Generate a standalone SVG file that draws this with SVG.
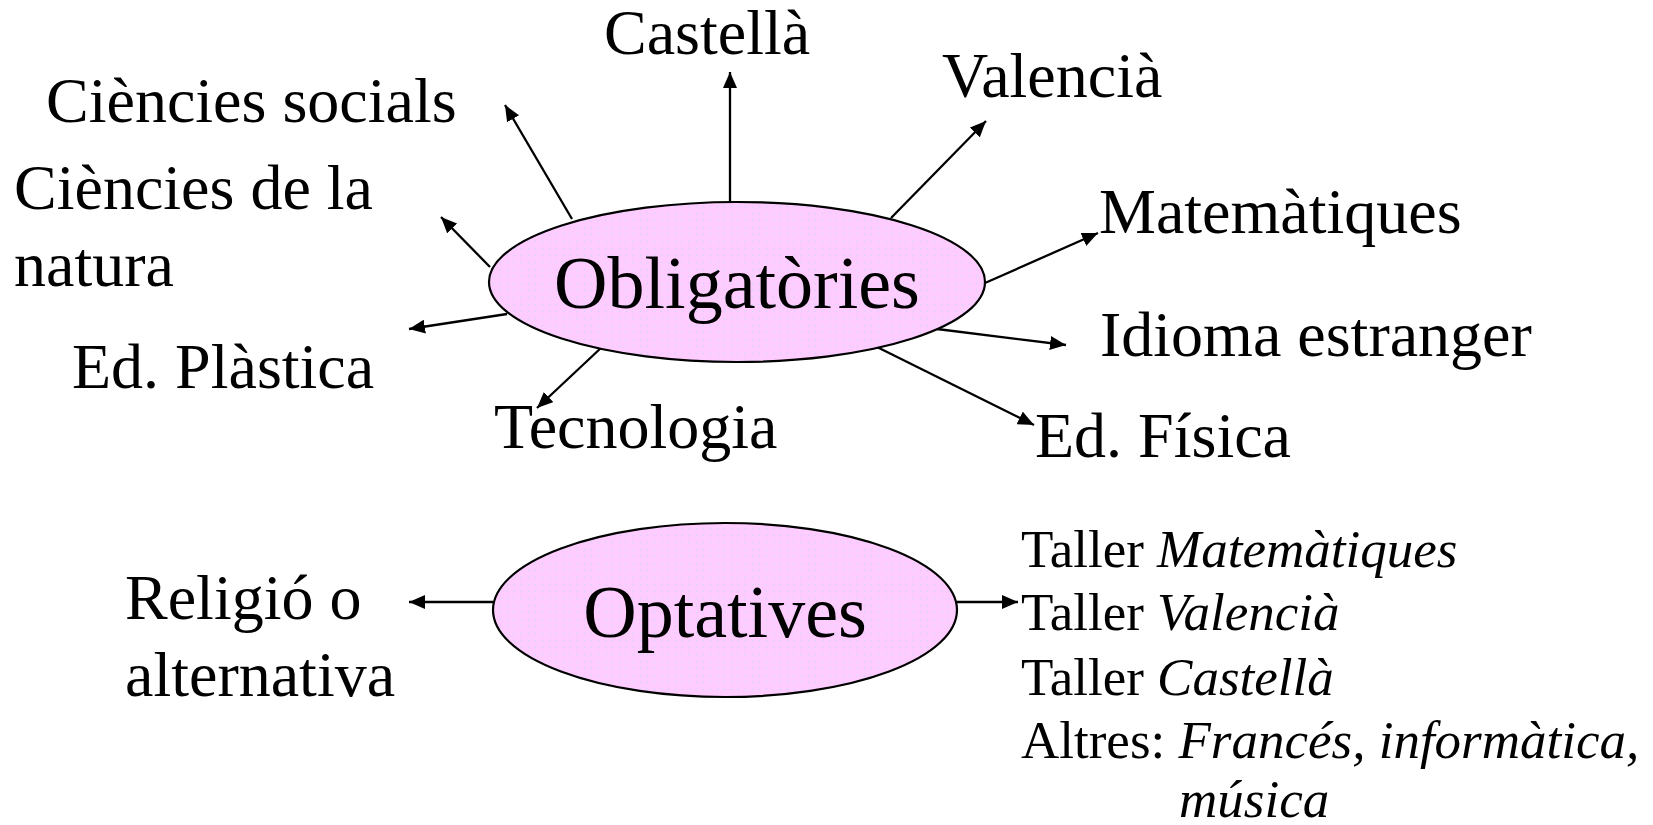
<svg xmlns="http://www.w3.org/2000/svg" width="1653" height="825" viewBox="0 0 1653 825">
<style>
text{font-family:"Liberation Serif","Times New Roman",serif;fill:#000}
.lbl{font-size:64px}
.main{font-size:74px;text-anchor:middle}
.lst{font-size:53px}
.it{font-style:italic}
.node ellipse{fill:url(#dots);stroke:#000;stroke-width:2.2}
.conn line{stroke:#000;stroke-width:2.3;marker-end:url(#ah)}
</style>
<defs>
<pattern id="dots" patternUnits="userSpaceOnUse" width="7" height="7">
<rect width="7" height="7" fill="#FFCCFF"/>
<circle cx="3.5" cy="3.5" r="0.9" fill="#D9D4FF"/>
</pattern>
<marker id="ah" markerUnits="userSpaceOnUse" markerWidth="17" markerHeight="14" refX="16" refY="7" orient="auto">
<path d="M0,0 L16,7 L0,14 z" fill="#000"/>
</marker>
</defs>
<rect width="1653" height="825" fill="#fff"/>
<g id="connectors" class="conn">
<line x1="730" y1="202" x2="730" y2="72"/>
<line x1="572" y1="219" x2="505" y2="105"/>
<line x1="490" y1="267" x2="441" y2="217"/>
<line x1="507" y1="314" x2="409" y2="329"/>
<line x1="602" y1="347" x2="537" y2="408"/>
<line x1="891" y1="218" x2="986" y2="121"/>
<line x1="985" y1="283" x2="1098" y2="233"/>
<line x1="937" y1="329" x2="1066" y2="345"/>
<line x1="877" y1="347" x2="1034" y2="425"/>
<line x1="493" y1="602" x2="409" y2="602"/>
<line x1="957" y1="602" x2="1018" y2="602"/>
</g>
<g id="obligatories" class="node">
<ellipse cx="737" cy="282" rx="248" ry="80"/>
<text class="main" x="737" y="308">Obligatòries</text>
</g>
<g id="optatives" class="node">
<ellipse cx="725" cy="610" rx="232" ry="87"/>
<text class="main" x="725" y="637">Optatives</text>
</g>
<g id="castella"><text class="lbl" x="604" y="54">Castellà</text></g>
<g id="valencia"><text class="lbl" x="942" y="97">Valencià</text></g>
<g id="ciencies-socials"><text class="lbl" x="46" y="122">Ciències socials</text></g>
<g id="ciencies-natura"><text class="lbl" x="14" y="209">Ciències de la</text><text class="lbl" x="14" y="286">natura</text></g>
<g id="matematiques"><text class="lbl" x="1099" y="233">Matemàtiques</text></g>
<g id="idioma"><text class="lbl" x="1100" y="356">Idioma estranger</text></g>
<g id="plastica"><text class="lbl" x="72" y="388">Ed. Plàstica</text></g>
<g id="tecnologia"><text class="lbl" x="494" y="448">Tecnologia</text></g>
<g id="fisica"><text class="lbl" x="1035" y="457">Ed. Física</text></g>
<g id="religio"><text class="lbl" x="125" y="619">Religió o</text><text class="lbl" x="125" y="696">alternativa</text></g>
<g id="tallers">
<text class="lst" x="1021" y="567">Taller <tspan class="it">Matemàtiques</tspan></text>
<text class="lst" x="1021" y="630">Taller <tspan class="it">Valencià</tspan></text>
<text class="lst" x="1021" y="695">Taller <tspan class="it">Castellà</tspan></text>
<text class="lst" x="1021" y="758">Altres: <tspan class="it">Francés, informàtica,</tspan></text>
<text class="lst it" x="1179" y="817">música</text>
</g>
</svg>
